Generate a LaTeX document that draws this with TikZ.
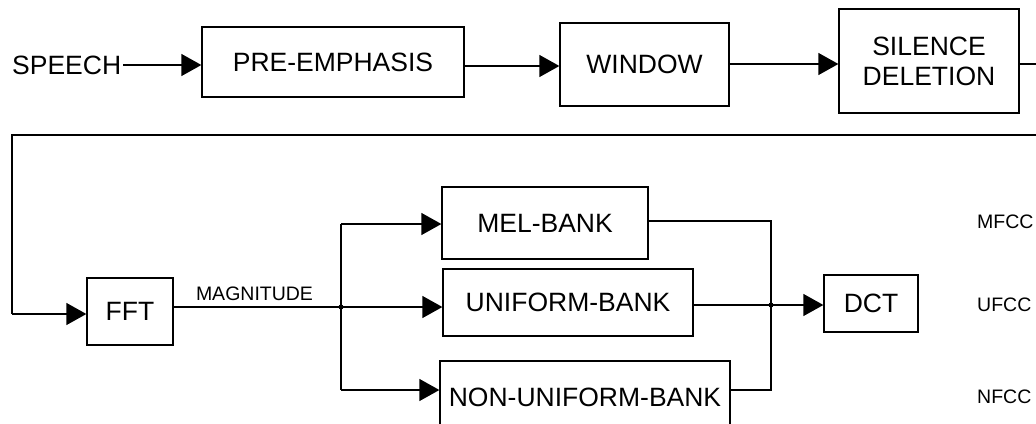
\documentclass[tikz,border=0pt]{standalone}
\usepackage{fontspec}
\setmainfont{Liberation Sans}
\usetikzlibrary{arrows.meta,calc}
\tikzset{
  blk/.style={draw, line width=1.3pt, inner sep=0pt, align=center,
    font=\fontsize{26.5}{30}\selectfont},
  arr/.style={line width=1.3pt, -{Triangle[length=20pt,width=22pt]}},
  ln/.style={line width=1.3pt},
  small/.style={inner sep=0pt, font=\fontsize{19.5}{22}\selectfont},
  dot/.style={circle, fill, inner sep=0pt, minimum size=5pt}
}
\begin{document}
\begin{tikzpicture}[x=1pt,y=-1pt]
\useasboundingbox (0,0) rectangle (1036,423);
\clip (0,0) rectangle (1036,423);
% top row
\node[inner sep=0pt, font=\fontsize{26.5}{30}\selectfont, anchor=west] (speech) at (12,65) {SPEECH};
\node[blk, minimum width=262pt, minimum height=70pt] (pre) at (333,62) {PRE-EMPHASIS};
\node[blk, minimum width=169pt, minimum height=83pt] (win) at (644.5,64.5) {WINDOW};
\node[blk, minimum width=180pt, minimum height=104pt] (sil) at (929,61) {SILENCE\\DELETION};
\coordinate (r1) at (1039,64);
\coordinate (r2) at (1039,135);
\coordinate (l1) at (12,135);
\coordinate (l2) at (12,314);
% bottom part
\node[blk, minimum width=86pt, minimum height=67pt] (fft) at (130,311.5) {FFT};
\coordinate (j1) at (341,307);
\node[blk, minimum width=206pt, minimum height=72pt] (mel) at (545,223) {MEL-BANK};
\node[blk, minimum width=250pt, minimum height=67pt] (uni) at (568,302.5) {UNIFORM-BANK};
\node[blk, minimum width=290pt, minimum height=72pt] (non) at (585,397) {NON-UNIFORM-BANK};
\coordinate (ma) at (341,224);
\coordinate (na) at (341,390);
\coordinate (mo) at (771,221);
\coordinate (no) at (771,390);
\coordinate (j2) at (771,305);
\node[blk, minimum width=94pt, minimum height=57pt] (dct) at (871,303.5) {DCT};
\node[small, anchor=south] (mag) at (254.5,301) {MAGNITUDE};
\node[small, anchor=west] (mfcc) at (977,222) {MFCC};
\node[small, anchor=west] (ufcc) at (977,305) {UFCC};
\node[small, anchor=west] (nfcc) at (977,397) {NFCC};
% connectors
\draw[arr] ([xshift=2pt]speech.east) -- (pre.west |- speech.east);
\draw[arr] (pre.east |- 0,66) -- (win.west |- 0,66);
\draw[arr] (win.east |- 0,64) -- (sil.west |- 0,64);
\draw[ln] (sil.east |- r1) -- (r1) -- (r2) -- (l1) -- (l2);
\draw[arr] (l2) -- (fft.west |- l2);
\draw[ln] (fft.east |- j1) -- (j1);
\draw[ln] (ma) -- (na);
\draw[arr] (ma) -- (mel.west |- ma);
\draw[arr] (j1) -- (uni.west |- j1);
\draw[arr] (na) -- (non.west |- na);
\draw[ln] (mel.east |- mo) -- (mo) -- (no) -- (non.east |- no);
\draw[ln] (uni.east |- j2) -- (j2);
\draw[arr] (j2) -- (dct.west |- j2);
\node[dot] at (j1) {};
\node[dot] at (j2) {};
\end{tikzpicture}
\end{document}
